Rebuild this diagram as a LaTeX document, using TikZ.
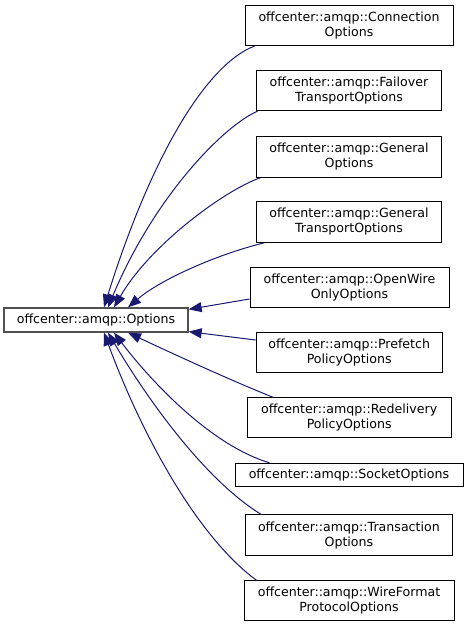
\documentclass[tikz,border=0pt]{standalone}
\usepackage{fontspec}
\setmainfont{DejaVu Sans}
\usetikzlibrary{arrows.meta,calc}
\definecolor{edgeblue}{HTML}{191970}
\definecolor{mainborder}{HTML}{505050}
\tikzset{
  cls/.style={draw=black, line width=1pt, fill=white, inner sep=0pt, align=center,
    font=\fontsize{12.6}{15}\selectfont},
  mainc/.style={cls, draw=mainborder, line width=1.3pt},
  inh/.style={draw=edgeblue, line width=1pt, -{Triangle[length=13pt,width=10pt]}},
}
\begin{document}
\begin{tikzpicture}[x=1pt,y=-1pt]
\useasboundingbox (0,0) rectangle (468,627);
\node[mainc, minimum width=184, minimum height=24] (opt) at (96,320) {offcenter::amqp::Options};
\node[cls, minimum width=208, minimum height=40.5] (conn) at (349,25.3) {offcenter::amqp::Connection\\Options};
\node[cls, minimum width=184.6, minimum height=40.6] (fail) at (349,90.4) {offcenter::amqp::Failover\\TransportOptions};
\node[cls, minimum width=184.6, minimum height=40.6] (gen) at (349,157) {offcenter::amqp::General\\Options};
\node[cls, minimum width=184.6, minimum height=40.6] (gent) at (349,222) {offcenter::amqp::General\\TransportOptions};
\node[cls, minimum width=199, minimum height=40.4] (ow) at (349.5,287.5) {offcenter::amqp::OpenWire\\OnlyOptions};
\node[cls, minimum width=186.3, minimum height=40] (pre) at (349.2,352.3) {offcenter::amqp::Prefetch\\PolicyOptions};
\node[cls, minimum width=203.7, minimum height=40] (red) at (349.2,417.7) {offcenter::amqp::Redelivery\\PolicyOptions};
\node[cls, minimum width=228, minimum height=23.4] (sock) at (349,475) {offcenter::amqp::SocketOptions};
\node[cls, minimum width=206.3, minimum height=40.3] (tran) at (348.9,535.1) {offcenter::amqp::Transaction\\Options};
\node[cls, minimum width=210, minimum height=40] (wire) at (349,600.8) {offcenter::amqp::WireFormat\\ProtocolOptions};

\draw[inh] ($(conn.south west)+(10,0)$) .. controls (205,65) and (150,160) .. ($(opt.north)+(8,0)$);
\draw[inh] ($(fail.south west)+(1.3,0)$) .. controls (225,125) and (155,195) .. ($(opt.north)+(12,0)$);
\draw[inh] ($(gen.south west)+(4,0)$) .. controls (225,190) and (150,245) .. ($(opt.north)+(18,0)$);
\draw[inh] ($(gent.south west)+(8,0)$) .. controls (215,255) and (160,280) .. ($(opt.north)+(32,0)$);
\draw[inh] ($(ow.west)+(0,11.5)$) -- ($(opt.north east)+(0,2)$);
\draw[inh] ($(pre.west)+(0,-12.3)$) -- ($(opt.south east)+(0,-1)$);
\draw[inh] ($(red.north west)+(26,0)$) .. controls (225,378) and (165,350) .. ($(opt.south)+(32,0)$);
\draw[inh] ($(sock.north west)+(35,0)$) .. controls (210,445) and (150,380) .. ($(opt.south)+(18,0)$);
\draw[inh] ($(tran.north west)+(16,0)$) .. controls (205,480) and (148,400) .. ($(opt.south)+(12,0)$);
\draw[inh] ($(wire.north west)+(13,0)$) .. controls (195,535) and (140,430) .. ($(opt.south)+(8,0)$);
\end{tikzpicture}
\end{document}
